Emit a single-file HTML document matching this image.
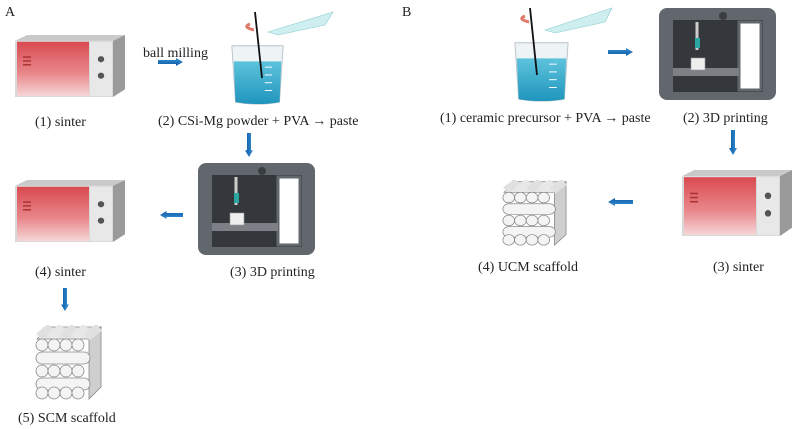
<!DOCTYPE html>
<html><head><meta charset="utf-8"><style>
body{margin:0;background:#fff}
svg{display:block}
text{font-family:"Liberation Serif",serif;font-size:14px;fill:#222}
</style></head><body>
<svg width="798" height="429" viewBox="0 0 798 429" xmlns="http://www.w3.org/2000/svg">
<defs>
<linearGradient id="red" x1="0" y1="0" x2="0" y2="1"><stop offset="0" stop-color="#d94a50"/><stop offset="0.6" stop-color="#e98a8e"/><stop offset="1" stop-color="#f6d6d8"/></linearGradient>
<linearGradient id="water" x1="0" y1="0" x2="0" y2="1"><stop offset="0" stop-color="#5ec3dc"/><stop offset="1" stop-color="#1f95bd"/></linearGradient>
<linearGradient id="arr" x1="0" y1="0" x2="0" y2="1"><stop offset="0" stop-color="#3a8fd0"/><stop offset="1" stop-color="#0a5ca8"/></linearGradient>
<symbol id="mw" viewBox="0 0 110 65" preserveAspectRatio="none">
 <polygon points="0,6 12,0 110,0 98,6" fill="#c9c9c9"/>
 <polygon points="98,6 110,0 110,56 98,64" fill="#9a9a9a"/>
 <rect x="0" y="6" width="98" height="58" fill="#d8d8d8"/>
 <rect x="2" y="7" width="72" height="56" fill="url(#red)"/>
 <rect x="75" y="7" width="22" height="56" fill="#e8e8e8"/>
 <circle cx="86" cy="25" r="3.2" fill="#555"/><circle cx="86" cy="42" r="3.2" fill="#555"/>
 <g fill="#a33"><rect x="8" y="22" width="8" height="1.5"/><rect x="8" y="26" width="8" height="1.5"/><rect x="8" y="30" width="8" height="1.5"/></g>
</symbol>
<symbol id="beaker" viewBox="0 0 60 70" preserveAspectRatio="none">
 <path d="M2,8 L58,8 L54,66 Q30,70 6,66 Z" fill="#eef3f5" stroke="#b7c3c8"/>
 <path d="M4,24 L56,24 L54,66 Q30,70 6,66 Z" fill="url(#water)"/>
 <g stroke="#fff" stroke-width="1"><line x1="38" y1="30" x2="46" y2="30"/><line x1="38" y1="38" x2="46" y2="38"/><line x1="38" y1="46" x2="46" y2="46"/><line x1="38" y1="54" x2="46" y2="54"/></g>
</symbol>
<symbol id="printer" viewBox="0 0 117 92" preserveAspectRatio="none">
 <rect x="0" y="0" width="117" height="92" rx="8" fill="#62676d"/>
 <rect x="14" y="12" width="90" height="72" fill="#34383d"/>
 <rect x="80" y="14" width="22" height="68" fill="#fff" stroke="#62676d" stroke-width="3"/>
 <rect x="14" y="60" width="66" height="8" fill="#7c8086"/>
 <line x1="38" y1="14" x2="38" y2="42" stroke="#ccc" stroke-width="3"/>
 <rect x="36" y="30" width="5" height="10" fill="#2aa7a0"/>
 <rect x="32" y="50" width="14" height="12" fill="#eee" stroke="#999" stroke-width=".6"/>
 <circle cx="64" cy="8" r="4" fill="#3a3e43"/>
</symbol>
<symbol id="scaf" viewBox="0 0 70 75" preserveAspectRatio="none">
 <g fill="#f4f4f4" stroke="#888" stroke-width="0.8">
 <polygon points="4,14 16,2 68,2 56,14" fill="#e6e6e6"/>
 <polygon points="56,14 68,2 68,62 56,74" fill="#cfcfcf"/>
 <g><path d="M6,12 l12,-10" stroke-width="9" stroke="#e0e0e0"/><path d="M18,12 l12,-10" stroke-width="9" stroke="#e8e8e8"/><path d="M30,12 l12,-10" stroke-width="9" stroke="#e0e0e0"/><path d="M42,12 l12,-10" stroke-width="9" stroke="#e8e8e8"/><path d="M54,12 l12,-10" stroke-width="9" stroke="#e0e0e0"/></g>
 <circle cx="9" cy="20" r="6"/><circle cx="21" cy="20" r="6"/><circle cx="33" cy="20" r="6"/><circle cx="45" cy="20" r="6"/>
 <rect x="3" y="27" width="54" height="12" rx="6"/>
 <circle cx="9" cy="46" r="6"/><circle cx="21" cy="46" r="6"/><circle cx="33" cy="46" r="6"/><circle cx="45" cy="46" r="6"/>
 <rect x="3" y="53" width="54" height="12" rx="6"/>
 <circle cx="9" cy="68" r="6"/><circle cx="21" cy="68" r="6"/><circle cx="33" cy="68" r="6"/><circle cx="45" cy="68" r="6"/>
 </g>
</symbol>
<symbol id="ar" viewBox="0 0 25 8" preserveAspectRatio="none"><polygon points="0,2 18,2 18,0 25,4 18,8 18,6 0,6" fill="url(#arr)"/></symbol>
</defs>

<text x="5" y="16">A</text>
<text x="402" y="16">B</text>

<!-- A -->
<use href="#mw" x="15" y="35" width="110" height="63"/>
<text x="35" y="126">(1) sinter</text>
<text x="143" y="57">ball milling</text>
<use href="#ar" x="158" y="58" width="25" height="8"/>
<polygon points="268,32 333,12 325,25 278,35" fill="#cfeef0" stroke="#8cc" stroke-width=".6"/>
<use href="#beaker" x="230" y="38" width="55" height="68"/>
<line x1="255" y1="12" x2="262" y2="78" stroke="#111" stroke-width="1.8"/>
<path d="M250,24 q-8,3 4,6" stroke="#e07a6a" stroke-width="3" fill="none"/>
<text x="158" y="125">(2) CSi-Mg powder + PVA → paste</text>
<g transform="translate(249,133) rotate(90)"><use href="#ar" x="0" y="-4" width="24" height="8"/></g>
<use href="#printer" x="198" y="163" width="117" height="92"/>
<text x="230" y="276">(3) 3D printing</text>
<g transform="translate(183,215) rotate(180)"><use href="#ar" x="0" y="-4" width="23" height="8"/></g>
<use href="#mw" x="15" y="180" width="110" height="63"/>
<text x="35" y="276">(4) sinter</text>
<g transform="translate(65,288) rotate(90)"><use href="#ar" x="0" y="-4" width="23" height="8"/></g>
<use href="#scaf" x="33" y="325" width="70" height="75"/>
<text x="18" y="422">(5) SCM scaffold</text>

<!-- B -->
<polygon points="545,30 612,8 605,22 555,33" fill="#cfeef0" stroke="#8cc" stroke-width=".6"/>
<use href="#beaker" x="513" y="35" width="57" height="68"/>
<line x1="530" y1="8" x2="537" y2="75" stroke="#111" stroke-width="1.8"/>
<path d="M525,16 q-8,3 4,6" stroke="#e07a6a" stroke-width="3" fill="none"/>
<text x="440" y="122">(1) ceramic precursor + PVA → paste</text>
<use href="#ar" x="608" y="48" width="25" height="8"/>
<use href="#printer" x="659" y="8" width="117" height="92"/>
<text x="683" y="122">(2) 3D printing</text>
<g transform="translate(733,130) rotate(90)"><use href="#ar" x="0" y="-4" width="25" height="8"/></g>
<use href="#mw" x="682" y="170" width="110" height="67"/>
<text x="713" y="271">(3) sinter</text>
<g transform="translate(633,202) rotate(180)"><use href="#ar" x="0" y="-4" width="25" height="8"/></g>
<use href="#scaf" x="500" y="180" width="68" height="66"/>
<text x="478" y="271">(4) UCM scaffold</text>
</svg>
</body></html>
